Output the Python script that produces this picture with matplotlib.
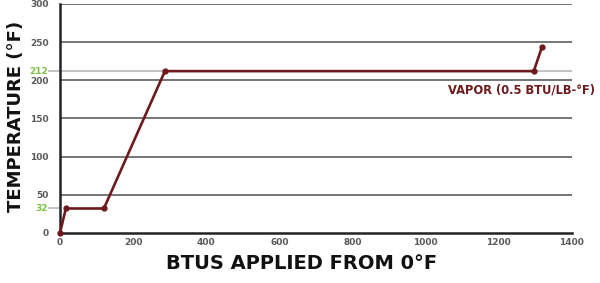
import matplotlib
matplotlib.use("Agg")
import matplotlib.pyplot as plt

btus = [0, 16, 120, 287, 1296, 1318]
temps = [0, 32, 32, 212, 212, 243]
x_ticks = [0, 200, 400, 600, 800, 1000, 1200, 1400]
y_ticks = [0, 50, 100, 150, 200, 250, 300]
special_ticks = [32, 212]

maroon = "#6e1a1d"
green = "#7cc242"
tick_gray = "#5a5a5a"

fig = plt.figure(figsize=(6, 2.83), dpi=100)
ax = fig.add_axes([0.1, 0.177, 0.853, 0.809])
ax.set_xlim(0, 1400)
ax.set_ylim(0, 300)

for y in y_ticks[1:]:
    ax.axhline(y, color="#6a6a6a", lw=1.3, zorder=1)
ax.axhline(212, color="#bdbdbd", lw=1.3, zorder=1)
ax.plot([-30, 0], [212, 212], color="#bdbdbd", lw=1.3, clip_on=False, zorder=1)
ax.plot([-30, 0], [32, 32], color="#bdbdbd", lw=1.3, clip_on=False, zorder=1)

ax.plot(btus, temps, color=maroon, lw=1.9, marker="o", ms=3.5, zorder=3, clip_on=False)

for s in ["top", "right"]:
    ax.spines[s].set_visible(False)
ax.spines["left"].set_color("#222222")
ax.spines["bottom"].set_color("#222222")
ax.spines["left"].set_linewidth(1.8)
ax.spines["bottom"].set_linewidth(1.8)

ax.set_xticks(x_ticks)
ax.set_yticks(y_ticks)
ax.tick_params(length=0, pad=4)
for lab in ax.get_xticklabels() + ax.get_yticklabels():
    lab.set_color(tick_gray)
    lab.set_fontsize(6.5)
    lab.set_fontweight("bold")
ax.tick_params(axis="y", pad=8)

for v in special_ticks:
    ax.text(-32, v, str(v), color=green, fontsize=6.5, fontweight="bold",
            ha="right", va="center", transform=ax.transData, clip_on=False)

ax.text(1263, 187, "VAPOR (0.5 BTU/LB-°F)", color=maroon, fontsize=8.3,
        fontweight="bold", ha="center", va="center", clip_on=False)

fig.text(0.503, 0.07, "BTUS APPLIED FROM 0°F", fontsize=14, fontweight="heavy",
         ha="center", va="center", color="#111111")
fig.text(0.027, 0.587, "TEMPERATURE (°F)", fontsize=13, fontweight="heavy",
         ha="center", va="center", rotation=90, color="#111111")

fig.savefig("out.png", dpi=100)
